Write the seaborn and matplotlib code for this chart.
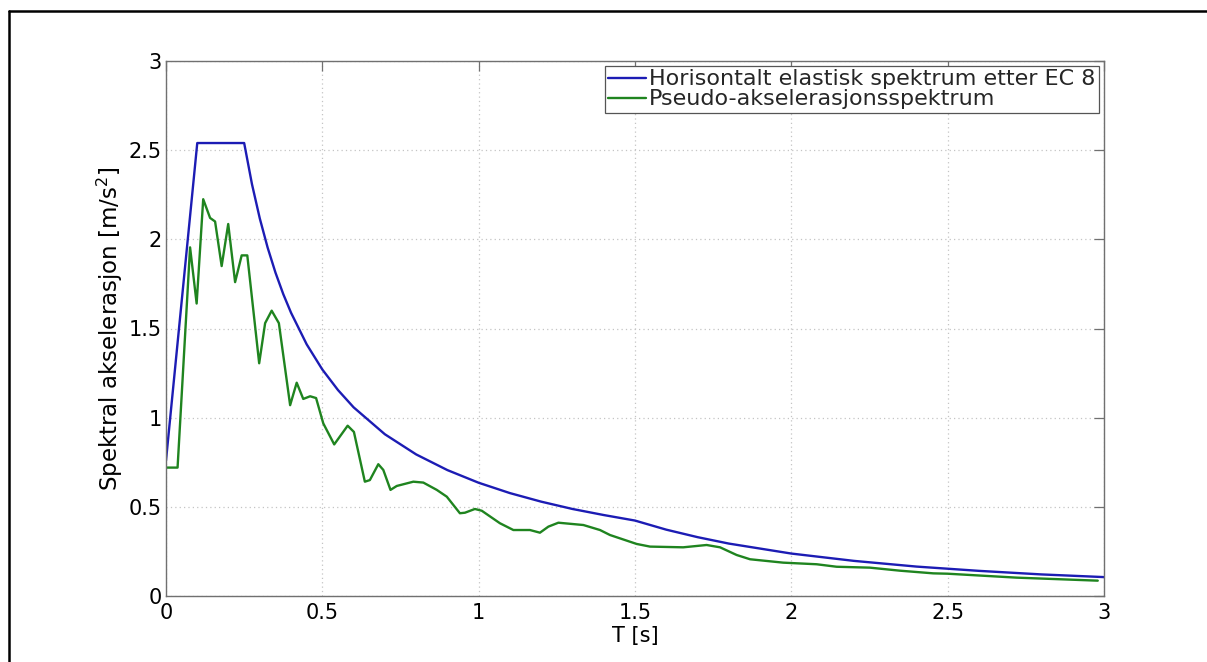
import matplotlib
matplotlib.use("Agg")
import matplotlib.pyplot as plt
from matplotlib.lines import Line2D
import seaborn as sns
import pandas as pd

# ---- data ----
blue_T = [0.0, 0.1, 0.25, 0.275, 0.3, 0.325, 0.35, 0.375, 0.4, 0.45, 0.5, 0.55, 0.6,
          0.7, 0.8, 0.9, 1.0, 1.1, 1.2, 1.3, 1.4, 1.5, 1.6, 1.7, 1.8, 2.0, 2.2,
          2.4, 2.6, 2.8, 3.0]
blue_S = [0.76, 2.54, 2.54, 2.309, 2.117, 1.954, 1.814, 1.693, 1.588, 1.411, 1.27,
          1.155, 1.058, 0.907, 0.794, 0.706, 0.635, 0.577, 0.529, 0.488, 0.454,
          0.423, 0.372, 0.330, 0.294, 0.238, 0.197, 0.165, 0.141, 0.121, 0.106]

green_T = [0.0, 0.037, 0.077, 0.098, 0.119, 0.141, 0.157, 0.178, 0.199, 0.221, 0.242,
           0.26, 0.298, 0.317, 0.338, 0.361, 0.397, 0.418, 0.439, 0.461, 0.48, 0.503,
           0.538, 0.581, 0.601, 0.636, 0.652, 0.679, 0.695, 0.718, 0.738, 0.791,
           0.823, 0.866, 0.898, 0.940, 0.956, 0.988, 1.01, 1.068, 1.111, 1.164,
           1.196, 1.223, 1.255, 1.335, 1.388, 1.42, 1.505, 1.548, 1.654, 1.729,
           1.772, 1.825, 1.868, 1.974, 2.081, 2.145, 2.251, 2.347, 2.454, 2.5,
           2.72, 2.98]
green_S = [0.72, 0.72, 1.955, 1.64, 2.225, 2.12, 2.10, 1.85, 2.086, 1.76, 1.91,
           1.91, 1.305, 1.53, 1.60, 1.53, 1.07, 1.196, 1.105, 1.12, 1.11, 0.968,
           0.85, 0.955, 0.92, 0.641, 0.65, 0.739, 0.707, 0.595, 0.617, 0.641,
           0.636, 0.595, 0.557, 0.464, 0.467, 0.488, 0.478, 0.408, 0.37, 0.37,
           0.355, 0.389, 0.411, 0.398, 0.37, 0.342, 0.292, 0.277, 0.273, 0.286,
           0.273, 0.23, 0.206, 0.187, 0.178, 0.164, 0.159, 0.142, 0.127, 0.125,
           0.103, 0.086]

labels = ["Horisontalt elastisk spektrum etter EC 8", "Pseudo-akselerasjonsspektrum"]
ticks = [0, 0.5, 1, 1.5, 2, 2.5, 3]
tick_labels = ["0", "0.5", "1", "1.5", "2", "2.5", "3"]

# ---- style ----
sns.set_theme(style="white")
plt.rcParams["font.family"] = ["DejaVu Sans"]
plt.rcParams["mathtext.fontset"] = "dejavusans"

FS = 15
W, H = 1207, 662
fig = plt.figure(figsize=(W / 100, H / 100), dpi=100, facecolor="white")
ax = fig.add_axes([166 / W, 1 - 596 / H, (1104 - 166) / W, (596 - 61) / H])

df_b = pd.DataFrame({"T": blue_T, "S": blue_S})
df_g = pd.DataFrame({"T": green_T, "S": green_S})
sns.lineplot(data=df_b, x="T", y="S", ax=ax, color="#1c1cb4", lw=1.7,
             label=labels[0], sort=False)
sns.lineplot(data=df_g, x="T", y="S", ax=ax, color="#1f841f", lw=1.7,
             label=labels[1], sort=False)

ax.set_xlim(0, 3)
ax.set_ylim(0, 3)
ax.set_xticks(ticks)
ax.set_xticklabels(tick_labels)
ax.set_yticks(ticks)
ax.set_yticklabels(tick_labels)

ax.grid(True, color="#c4c4c4", linestyle=(0, (1, 2.5)), linewidth=0.9)
ax.set_axisbelow(True)
for sp in ax.spines.values():
    sp.set_color("#707070")
    sp.set_linewidth(1.0)
ax.tick_params(axis="both", which="major", direction="in", length=7, width=0.9,
               color="#707070", labelsize=FS, labelcolor="black",
               top=True, right=True)
ax.tick_params(axis="x", pad=5)
ax.tick_params(axis="y", pad=3)

ax.set_xlabel("T [s]", fontsize=FS, color="black")
ax.set_ylabel("Spektral akselerasjon [m/s$^2$]", fontsize=16.5, color="black")
ax.xaxis.set_label_coords(0.5, -0.056)
ax.yaxis.set_label_coords(-0.044, 0.5)

leg = ax.legend(loc="upper right", bbox_to_anchor=(1 - 5 / 938, 1 - 5 / 535),
                borderaxespad=0, fontsize=16, frameon=True, fancybox=False,
                framealpha=1, edgecolor="#555555", handlelength=1.7,
                handletextpad=0.15, borderpad=0.15, labelspacing=0.0)
leg.get_frame().set_linewidth(0.9)

# figure border (top and left lines as in the reference)
fig.add_artist(Line2D([8.5 / W, 1.0], [1 - 10.5 / H, 1 - 10.5 / H],
                      transform=fig.transFigure, color="black", lw=1.8))
fig.add_artist(Line2D([8.5 / W, 8.5 / W], [0.0, 1 - 10.5 / H],
                      transform=fig.transFigure, color="black", lw=1.8))

fig.savefig("out.png", dpi=100, facecolor="white")
